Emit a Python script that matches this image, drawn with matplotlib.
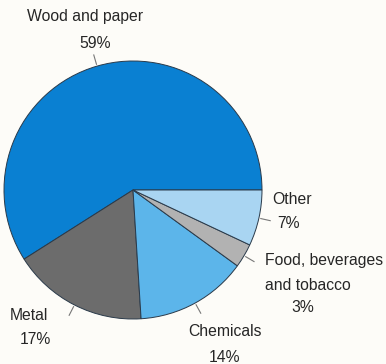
import numpy as np
import matplotlib
matplotlib.use('Agg')
import matplotlib.pyplot as plt

plt.rcParams['font.family'] = ['Liberation Sans', 'DejaVu Sans']

sectors = ['Wood and paper', 'Metal', 'Chemicals', 'Food, beverages\nand tobacco', 'Other']
shares = [59, 17, 14, 3, 7]
colors = ['#0a80d2', '#6c6c6c', '#5cb5ea', '#b2b2b2', '#a9d5f2']

# where each label goes, in pixels from the top-left: name lines start, then the percentage
name_pos = [(85, 17, 'center'), (29, 315, 'center'), (225, 332, 'center'),
            (265, 260, 'left'), (272, 200, 'left')]
pct_pos = [(95, 43), (35, 340), (225, 357), (303, 308), (288, 223)]

W, H = 386, 364
cx, cy, R = 133, H - 190, 129
fs = 11.3
tc = '#262626'

fig = plt.figure(figsize=(W / 100, H / 100), dpi=100)
fig.patch.set_facecolor('#fdfcf8')
ax = fig.add_axes([0, 0, 1, 1])

wedges, _ = ax.pie(shares, colors=colors, startangle=0, counterclock=True,
                   center=(cx, cy), radius=R, frame=True,
                   wedgeprops=dict(edgecolor='#2a3a4a', linewidth=0.7))
ax.set_xlim(0, W)
ax.set_ylim(0, H)
ax.set_aspect('equal')
ax.axis('off')

for w, name, share, (nx, ny, ha), (px, py) in zip(wedges, sectors, shares, name_pos, pct_pos):
    ang = np.deg2rad((w.theta1 + w.theta2) / 2)
    r0, r1 = R * 1.015, R * 1.09
    ax.plot([cx + r0 * np.cos(ang), cx + r1 * np.cos(ang)],
            [cy + r0 * np.sin(ang), cy + r1 * np.sin(ang)],
            color='#777777', lw=0.8)
    for i, line in enumerate(name.split('\n')):
        ax.text(nx, H - ny - 25 * i, line, ha=ha, va='center', fontsize=fs, color=tc)
    ax.text(px, H - py, '%d%%' % share, ha='center', va='center', fontsize=fs, color=tc)

fig.savefig('out.png', dpi=100, facecolor=fig.get_facecolor())
